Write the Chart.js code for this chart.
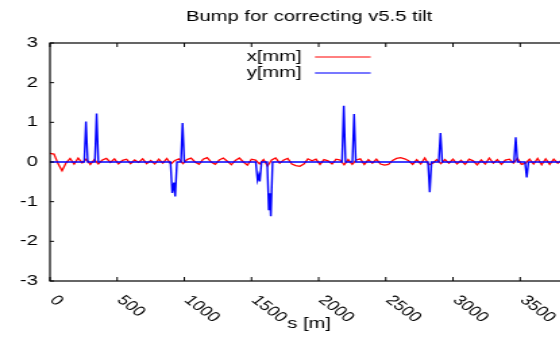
<!DOCTYPE html>
<html>
<head>
<meta charset="utf-8">
<script src="https://cdn.jsdelivr.net/npm/chart.js@4.4.0/dist/chart.umd.min.js"></script>
<style>
  html, body { margin: 0; padding: 0; background: #fff; overflow: hidden; }
  /* the original plot was stretched sideways, so draw narrow and widen it */
  #wrap { width: 424px; height: 356px; transform: scaleX(1.35); transform-origin: 0 0; }
</style>
</head>
<body>
<div id="wrap"><canvas id="chart" width="424" height="356"></canvas></div>
<script>
const titleText = "Bump for correcting v5.5 tilt";
const xTitle = "s [m]";
const seriesNames = ["x[mm]", "y[mm]"];
const xTicks = [0, 500, 1000, 1500, 2000, 2500, 3000, 3500];
const yTicks = [-3, -2, -1, 0, 1, 2, 3];

// x[mm]: one reading every 30 m along s
const xStep = 30;
const xValues = [
  0.22, 0.2, -0.04, -0.22, -0.02, 0.09, -0.05, 0.1, -0.02, 0.07,
  -0.06, 0.06, -0.05, 0.05, 0.09, -0.01, 0.08, -0.05, 0.04, 0.07,
  -0.04, 0.05, -0.01, 0.08, -0.04, 0.04, -0.05, 0.07, -0.03, 0.09,
  -0.05, 0.04, 0.08, -0.04, 0.06, 0.1, 0.0, -0.06, 0.07, 0.11,
  0.0, -0.06, 0.05, 0.1, 0.02, -0.07, 0.04, 0.1, 0.0, -0.08,
  0.07, 0.05, -0.05, 0.06, -0.1, 0.05, 0.1, -0.03, 0.05, 0.09,
  -0.05, -0.09, -0.11, -0.05, 0.08, 0.03, 0.07, -0.06, 0.06, 0.03,
  -0.05, 0.07, 0.05, -0.07, 0.06, -0.06, 0.05, 0.08, -0.06, 0.06,
  -0.03, 0.07, -0.05, -0.08, -0.06, 0.04, 0.09, 0.11, 0.08, 0.03,
  -0.06, 0.06, -0.05, 0.1, -0.07, -0.03, 0.06, -0.04, 0.06, -0.03,
  0.07, -0.05, 0.04, -0.06, 0.07, 0.03, -0.07, 0.05, -0.05, 0.1,
  -0.03, 0.06, -0.06, 0.05, 0.07, -0.03, 0.09, -0.06, -0.03, 0.07,
  -0.05, 0.09, -0.07, 0.08, -0.06, 0.07, -0.03, 0.05, -0.1, -0.13
];

// y[mm]: flat with bumps
const yS = [
  0, 255, 268, 281, 334, 347, 360,
  897, 910, 923, 932, 945, 975, 987, 1000,
  1532, 1545, 1555, 1562, 1575, 1617, 1629, 1637, 1644, 1657,
  2174, 2187, 2200, 2251, 2264, 2277,
  2814, 2827, 2840, 2894, 2907, 2920,
  3454, 3467, 3480, 3536, 3549, 3562, 3884
];
const yValues = [
  0, 0, 1.02, 0, 0, 1.22, 0,
  0, -0.78, -0.52, -0.87, 0, 0, 0.98, 0,
  0, -0.46, -0.33, -0.49, 0, 0, -1.2, -0.79, -1.37, 0,
  0, 1.42, 0, 0, 1.21, 0,
  0, -0.76, 0, 0, 0.73, 0,
  0, 0.62, 0, 0, -0.39, 0, 0
];

const font = '15px "Liberation Sans", Arial, sans-serif';
const tickFont = '14px "Liberation Sans", Arial, sans-serif';

const gnuplotLook = {
  id: 'gnuplotLook',
  afterDraw(chart) {
    const { ctx, chartArea: a, scales } = chart;
    const xs = scales.x, ys = scales.y;
    ctx.save();
    ctx.strokeStyle = '#000';
    ctx.lineWidth = 1.2;
    ctx.strokeRect(a.left, a.top, a.right - a.left, a.bottom - a.top);

    ctx.lineWidth = 1;
    ctx.beginPath();
    xTicks.forEach(v => {
      const px = xs.getPixelForValue(v);
      ctx.moveTo(px, a.bottom); ctx.lineTo(px, a.bottom - 4);
      ctx.moveTo(px, a.top); ctx.lineTo(px, a.top + 4);
    });
    yTicks.forEach(v => {
      const py = ys.getPixelForValue(v);
      ctx.moveTo(a.left, py); ctx.lineTo(a.left + 3, py);
      ctx.moveTo(a.right, py); ctx.lineTo(a.right - 3, py);
    });
    ctx.stroke();

    ctx.fillStyle = '#000';
    ctx.font = font;
    ctx.textAlign = 'right';
    ctx.textBaseline = 'middle';
    yTicks.forEach(v => {
      ctx.fillText(String(v), a.left - 9, ys.getPixelForValue(v));
    });

    ctx.font = tickFont;
    ctx.textAlign = 'left';
    xTicks.forEach(v => {
      ctx.save();
      ctx.translate(xs.getPixelForValue(v) + 2, a.bottom + 17);
      ctx.rotate(Math.PI / 4);
      ctx.fillText(String(v), 0, 0);
      ctx.restore();
    });

    ctx.font = font;
    ctx.textAlign = 'center';
    ctx.fillText(xTitle, 229, 324);
    ctx.fillText(titleText, 229, 17);

    // key
    const keyY = [57, 73];
    const colors = ['#ff0000', '#7878ff'];
    seriesNames.forEach((name, i) => {
      ctx.textAlign = 'right';
      ctx.fillText(name, 223.5, keyY[i]);
      ctx.strokeStyle = colors[i];
      ctx.lineWidth = i ? 2 : 1;
      ctx.beginPath();
      ctx.moveTo(233.3, keyY[i]);
      ctx.lineTo(274.6, keyY[i]);
      ctx.stroke();
    });
    ctx.restore();
  }
};

new Chart(document.getElementById('chart'), {
  type: 'line',
  data: {
    datasets: [
      {
        label: seriesNames[0],
        data: xValues.map((v, i) => ({ x: i * xStep, y: v })),
        borderColor: '#ff0000',
        borderWidth: 1.3,
        pointRadius: 0,
        tension: 0,
        order: 2
      },
      {
        label: seriesNames[1],
        data: yS.map((s, i) => ({ x: s, y: yValues[i] })),
        borderColor: '#0000ff',
        borderWidth: 1.4,
        pointRadius: 0,
        tension: 0,
        order: 1
      }
    ]
  },
  options: {
    responsive: false,
    animation: false,
    devicePixelRatio: 1,
    layout: { padding: { top: 43, right: 0.5, left: 0, bottom: 0 } },
    plugins: { legend: { display: false }, title: { display: false }, tooltip: { enabled: false } },
    scales: {
      x: {
        type: 'linear', min: 0, max: 3884,
        grid: { display: false }, border: { display: false },
        ticks: { display: false },
        afterFit(s) { s.height = 75; }
      },
      y: {
        min: -3, max: 3,
        grid: { display: false }, border: { display: false },
        ticks: { display: false },
        afterFit(s) { s.width = 37; }
      }
    }
  },
  plugins: [gnuplotLook]
});
</script>
</body>
</html>
